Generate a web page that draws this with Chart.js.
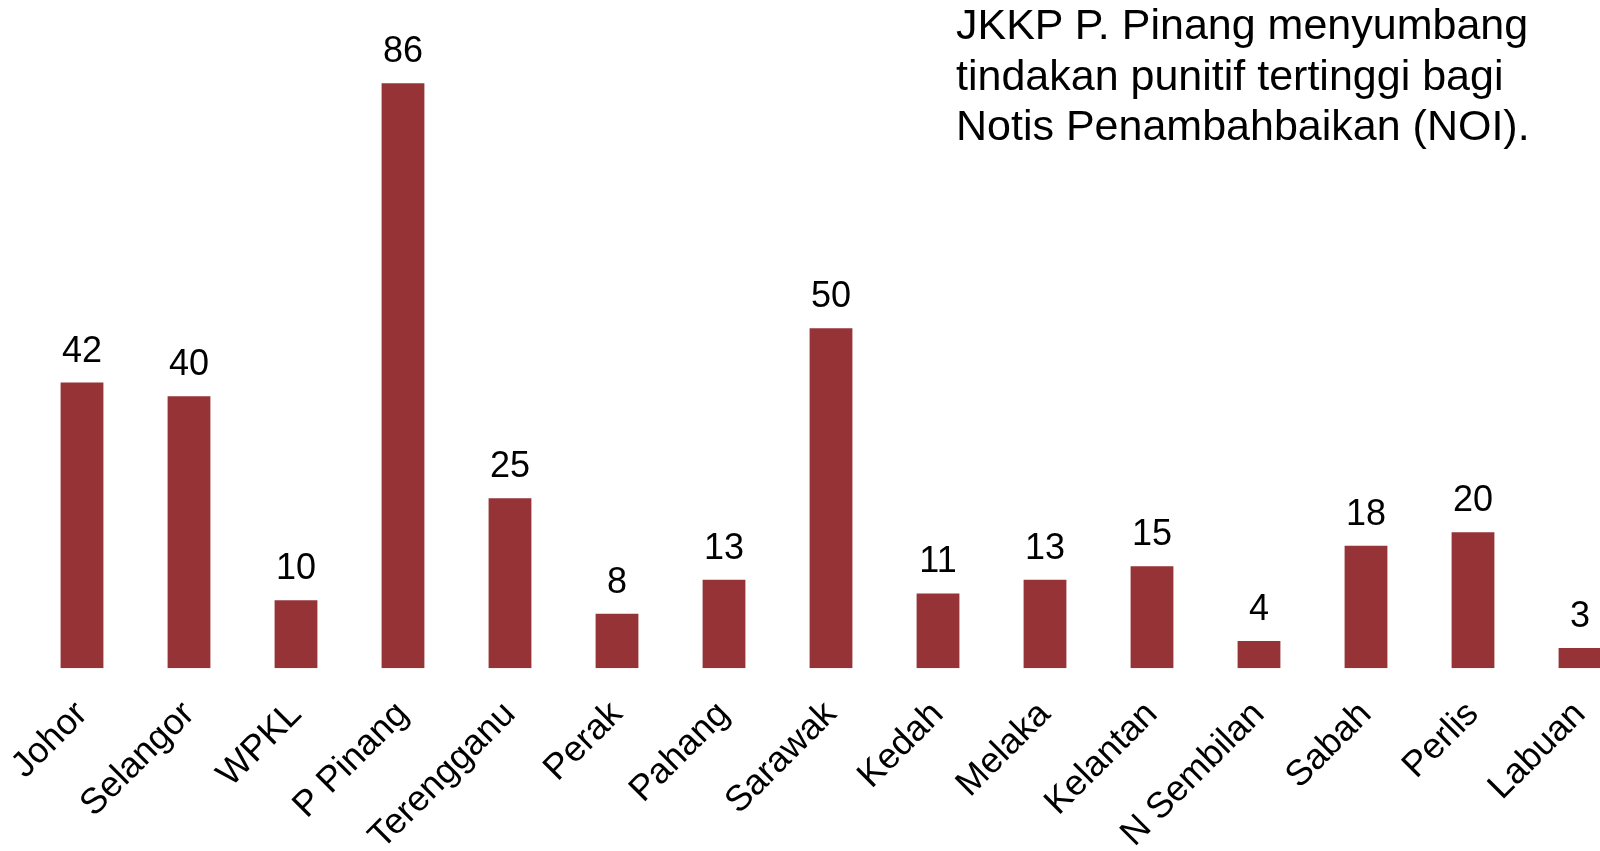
<!DOCTYPE html>
<html>
<head>
<meta charset="utf-8">
<script src="https://cdn.jsdelivr.net/npm/chart.js@4"></script>
<style>
    html, body { margin: 0; padding: 0; background: #fff; overflow: hidden; }
    #wrap { position: relative; width: 1640px; height: 851px; }
    #note {
        position: absolute; left: 956px; top: -1px;
        font-family: "Liberation Sans", Arial, sans-serif;
        font-size: 43px; line-height: 50.5px; color: #000; white-space: nowrap;
    }
</style>
</head>
<body>
<div id="wrap">
    <canvas id="noiChart" width="1640" height="851"></canvas>
    <div id="note">JKKP P. Pinang menyumbang<br>tindakan punitif tertinggi bagi<br>Notis Penambahbaikan (NOI).</div>
</div>
<script>
// data
const negeri = ["Johor", "Selangor", "WPKL", "P Pinang", "Terengganu", "Perak", "Pahang", "Sarawak",
    "Kedah", "Melaka", "Kelantan", "N Sembilan", "Sabah", "Perlis", "Labuan"];
const jumlahNOI = [42, 40, 10, 86, 25, 8, 13, 50, 11, 13, 15, 4, 18, 20, 3];

const barColor = '#963336';

// label nilai di atas setiap bar
const valueLabels = {
    id: 'valueLabels',
    afterDatasetsDraw(chart) {
        const ctx = chart.ctx;
        const meta = chart.getDatasetMeta(0);
        ctx.save();
        ctx.font = '36px "Liberation Sans", Arial, sans-serif';
        ctx.fillStyle = '#000';
        ctx.textAlign = 'center';
        ctx.textBaseline = 'alphabetic';
        meta.data.forEach((bar, i) => {
            ctx.fillText(String(jumlahNOI[i]), bar.x, bar.y - 21);
        });
        ctx.restore();
    }
};

const ctx = document.getElementById('noiChart').getContext('2d');
const noiChart = new Chart(ctx, {
    type: 'bar',
    data: {
        labels: negeri,
        datasets: [{
            data: jumlahNOI,
            backgroundColor: barColor,
            barPercentage: 0.8,
            categoryPercentage: 0.5
        }]
    },
    options: {
        responsive: false,
        animation: false,
        layout: { padding: { left: 28.5, right: 6.5, top: 56, bottom: 0 } },
        plugins: {
            legend: { display: false },
            tooltip: { enabled: false }
        },
        scales: {
            x: {
                grid: { display: false, drawTicks: false },
                border: { display: false },
                ticks: {
                    color: '#000',
                    font: { family: '"Liberation Sans", Arial, sans-serif', size: 36 },
                    minRotation: 45,
                    maxRotation: 45,
                    autoSkip: false,
                    padding: 25
                },
                afterFit(scale) {
                    scale.height = 182.7;
                    scale.paddingLeft = 0;
                    scale.paddingRight = 0;
                }
            },
            y: {
                display: false,
                min: 0,
                max: 90
            }
        }
    },
    plugins: [valueLabels]
});
</script>
</body>
</html>
